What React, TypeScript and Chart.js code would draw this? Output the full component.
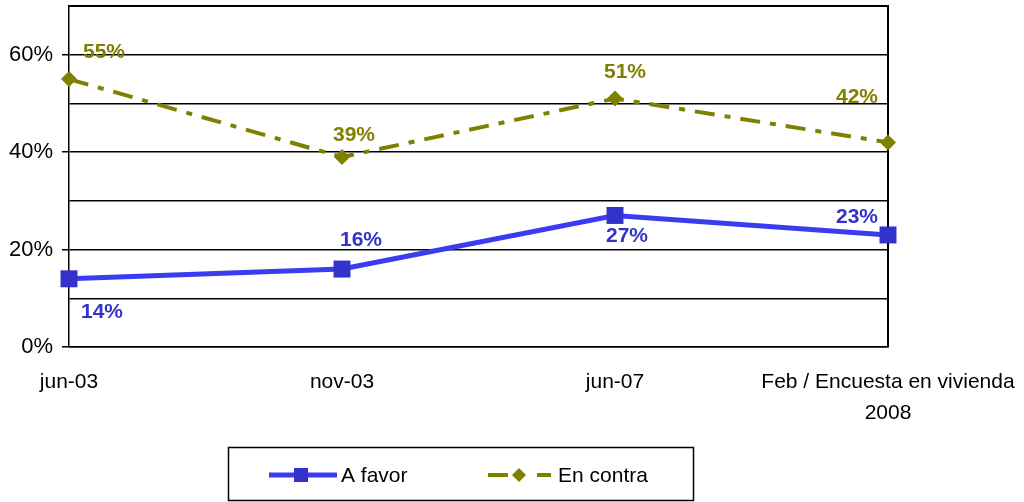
import React, { useEffect, useRef } from "react";
import { Chart, registerables } from "chart.js";

Chart.register(...registerables);

const categories: (string | string[])[] = ["jun-03", "nov-03", "jun-07", ["Feb / Encuesta en vivienda", "2008"]];
const aFavor = [14, 16, 27, 23];
const enContra = [55, 39, 51, 42];
const seriesNames = ["A favor", "En contra"];
const yTickLabels = [0, 20, 40, 60];

// label offsets (style only)
const favorLabelOffsets = [[33, 33], [19, -29], [12, 21], [-31, -18]];
const contraLabelOffsets = [[35, -27], [12, -22], [10, -26], [-31, -45]];

const BLUE_LINE = "#3B3BF2";
const BLUE_MARK = "#3333CC";
const OLIVE = "#808000";
const FONT = "'Liberation Sans', Arial, sans-serif";

const labelsPlugin = {
  id: "customLabels",
  afterDatasetsDraw(chart: any) {
    const ctx = chart.ctx;
    const x = chart.scales.x;
    const y = chart.scales.y;
    ctx.save();
    ctx.font = `bold 21px ${FONT}`;
    ctx.textAlign = "center";
    ctx.textBaseline = "middle";
    aFavor.forEach((v, i) => {
      ctx.fillStyle = BLUE_MARK;
      ctx.fillText(v + "%", x.getPixelForValue(i) + favorLabelOffsets[i][0], y.getPixelForValue(v) + favorLabelOffsets[i][1]);
    });
    enContra.forEach((v, i) => {
      ctx.fillStyle = OLIVE;
      ctx.fillText(v + "%", x.getPixelForValue(i) + contraLabelOffsets[i][0], y.getPixelForValue(v) + contraLabelOffsets[i][1]);
    });
    ctx.restore();
  },
  afterDraw(chart: any) {
    const ctx = chart.ctx;
    ctx.save();
    ctx.strokeStyle = "#000";
    ctx.lineWidth = 1.5;
    ctx.strokeRect(228.5, 447.5, 465, 53);
    const ly = 475;
    ctx.strokeStyle = BLUE_LINE;
    ctx.lineWidth = 5;
    ctx.beginPath();
    ctx.moveTo(269, ly);
    ctx.lineTo(337, ly);
    ctx.stroke();
    ctx.fillStyle = BLUE_MARK;
    ctx.fillRect(294, ly - 7, 14, 14);
    ctx.fillStyle = "#000";
    ctx.font = `21px ${FONT}`;
    ctx.textBaseline = "middle";
    ctx.textAlign = "left";
    ctx.fillText(seriesNames[0], 341, ly + 1);
    ctx.strokeStyle = OLIVE;
    ctx.lineWidth = 4;
    ctx.beginPath();
    ctx.moveTo(488, ly);
    ctx.lineTo(508, ly);
    ctx.moveTo(537, ly);
    ctx.lineTo(551, ly);
    ctx.stroke();
    ctx.fillStyle = OLIVE;
    ctx.beginPath();
    ctx.moveTo(519, ly - 7);
    ctx.lineTo(526, ly);
    ctx.lineTo(519, ly + 7);
    ctx.lineTo(512, ly);
    ctx.closePath();
    ctx.fill();
    ctx.fillStyle = "#000";
    ctx.fillText(seriesNames[1], 558, ly + 1);
    ctx.restore();
  },
};

const borderPlugin = {
  id: "plotBorder",
  beforeDatasetsDraw(chart: any) {
    const { left, right, top, bottom } = chart.chartArea;
    const ctx = chart.ctx;
    ctx.save();
    ctx.strokeStyle = "#000";
    ctx.lineWidth = 2;
    ctx.beginPath();
    ctx.moveTo(left, top);
    ctx.lineTo(right, top);
    ctx.lineTo(right, bottom);
    ctx.stroke();
    ctx.restore();
  },
};

export default function App() {
  const ref = useRef<HTMLCanvasElement>(null);
  useEffect(() => {
    document.body.style.margin = "0";
    const chart = new Chart(ref.current!, {
      type: "line",
      data: {
        labels: categories,
        datasets: [
          {
            label: seriesNames[0],
            data: aFavor,
            borderColor: BLUE_LINE,
            borderWidth: 5,
            pointStyle: "rect",
            pointRadius: 12,
            pointBackgroundColor: BLUE_MARK,
            pointBorderColor: BLUE_MARK,
            pointBorderWidth: 0,
            tension: 0,
            clip: false,
          },
          {
            label: seriesNames[1],
            data: enContra,
            borderColor: OLIVE,
            borderWidth: 4,
            borderDash: [20, 10, 6, 10],
            pointStyle: "rectRot",
            pointRadius: 8,
            pointBackgroundColor: OLIVE,
            pointBorderColor: OLIVE,
            pointBorderWidth: 0,
            tension: 0,
            clip: false,
          },
        ],
      },
      options: {
        animation: false,
        responsive: false,
        layout: { autoPadding: false, padding: { left: 0, right: 136, top: 6, bottom: 0 } },
        plugins: { legend: { display: false }, tooltip: { enabled: false } },
        scales: {
          x: {
            offset: false,
            grid: { display: false, drawOnChartArea: false, drawTicks: true, tickLength: 7, tickColor: "#000" },
            border: { color: "#000", width: 1.5 },
            ticks: {
              color: "#000",
              font: { family: FONT, size: 21, lineHeight: 1.48 },
              maxRotation: 0,
              autoSkip: false,
              padding: 13,
            },
            afterFit(scale: any) {
              scale.height = 155;
              scale.paddingLeft = 0;
              scale.paddingRight = 0;
            },
          },
          y: {
            min: 0,
            max: 70,
            grid: {
              color: "#000",
              lineWidth: 1.5,
              tickLength: 7,
              tickColor: (c: any) => (c.tick && yTickLabels.includes(c.tick.value) ? "#000" : "rgba(0,0,0,0)"),
            },
            border: { color: "#000", width: 1.5 },
            ticks: {
              stepSize: 10,
              color: "#000",
              font: { family: FONT, size: 22 },
              padding: 9,
              callback: (v: any) => (yTickLabels.includes(v) ? v + "%" : ""),
            },
            afterFit(scale: any) {
              scale.width = 69;
              scale.paddingTop = 0;
              scale.paddingBottom = 0;
            },
          },
        },
      },
      plugins: [borderPlugin, labelsPlugin],
    });
    return () => chart.destroy();
  }, []);
  return (
    <div style={{ width: 1024, height: 502 }}>
      <canvas ref={ref} width={1024} height={502} style={{ display: "block" }} />
    </div>
  );
}
